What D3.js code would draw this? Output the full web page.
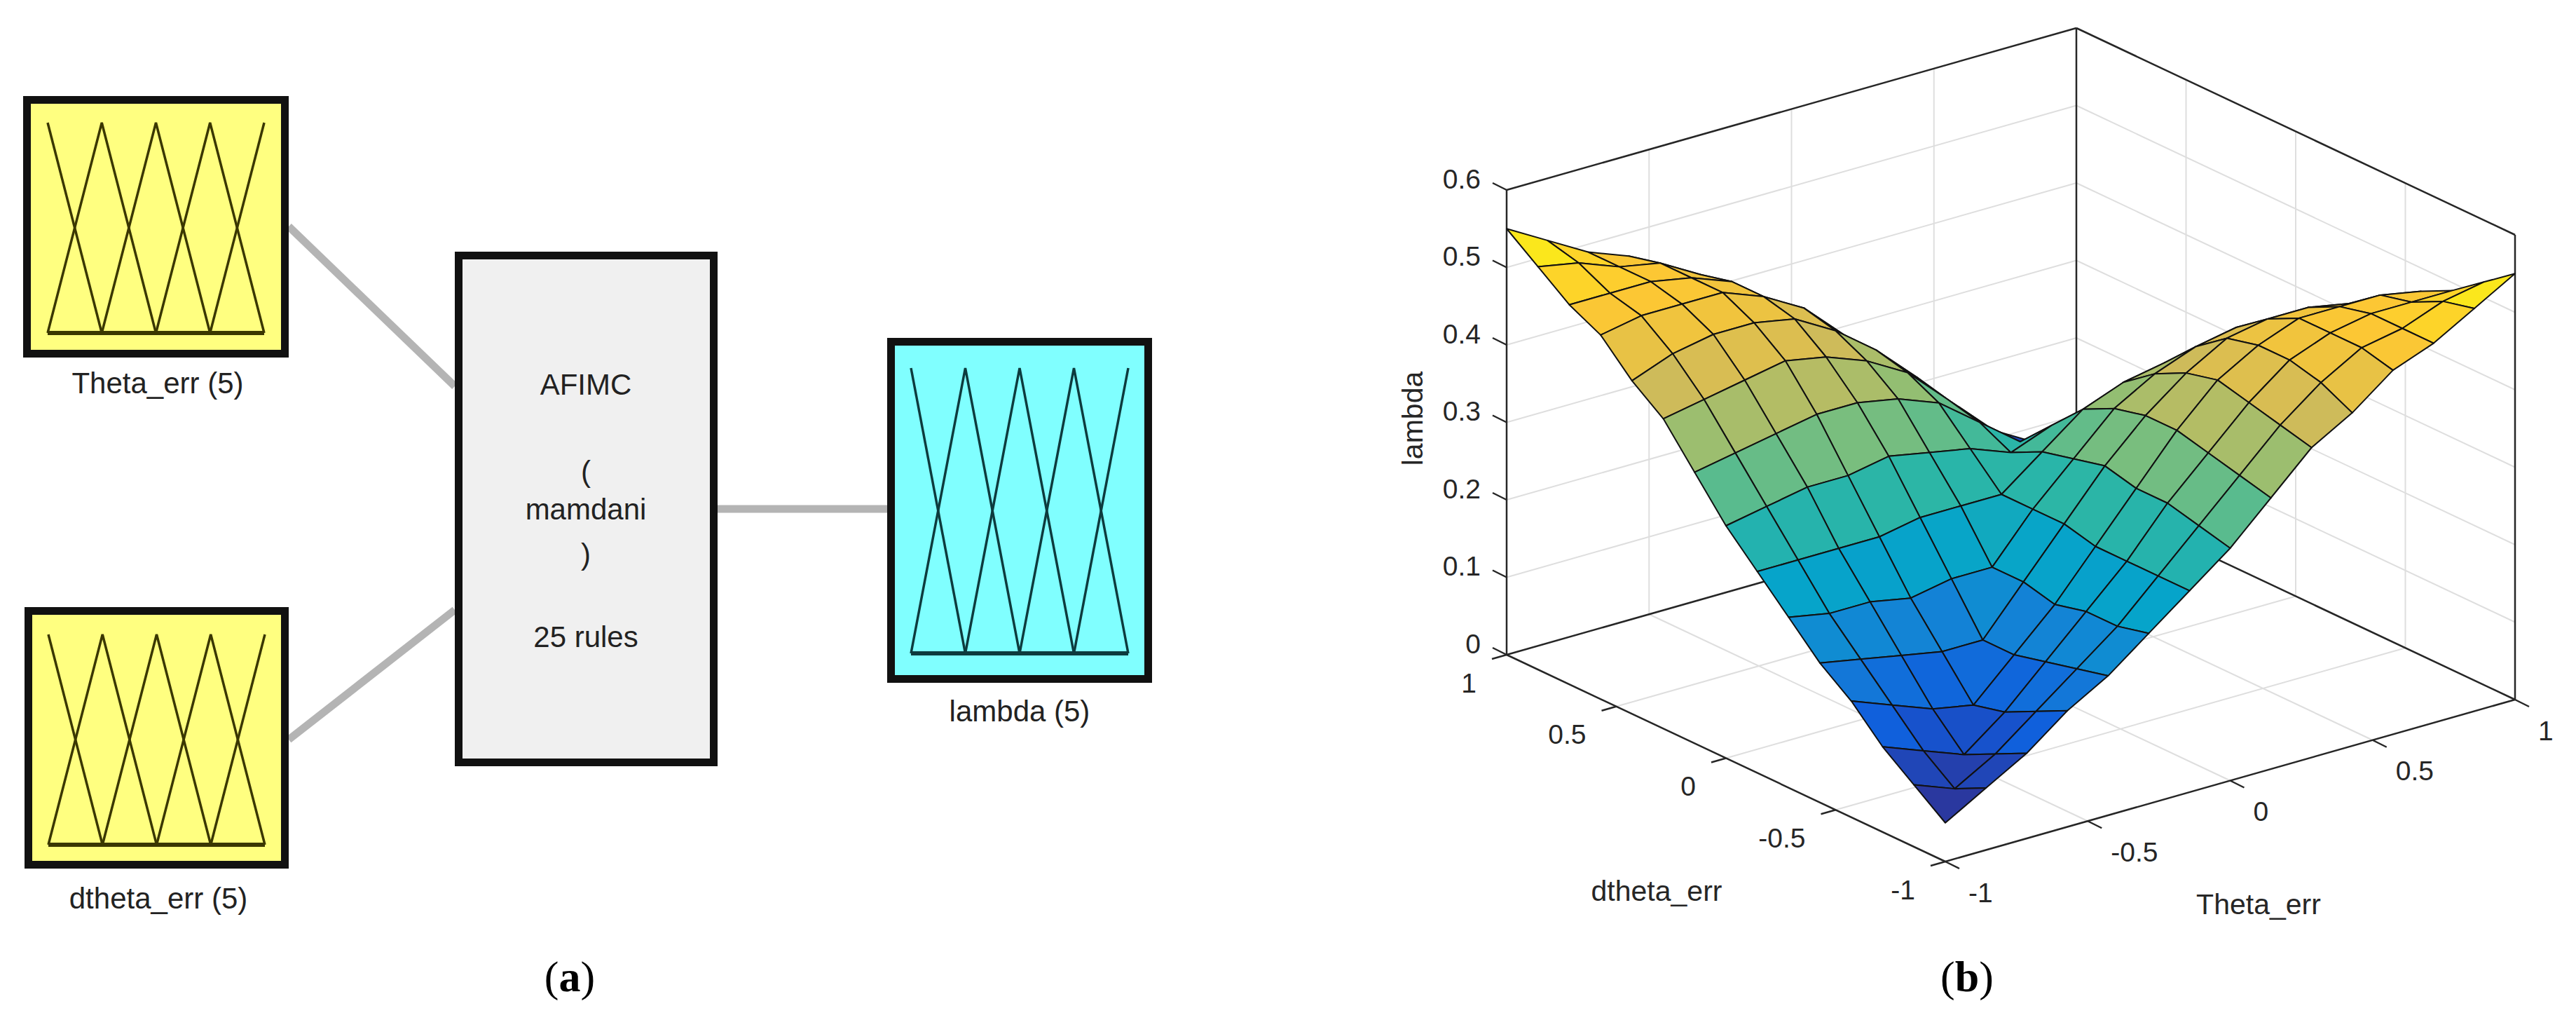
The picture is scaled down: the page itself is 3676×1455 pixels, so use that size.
<!DOCTYPE html>
<html><head><meta charset="utf-8">
<script src="https://cdn.jsdelivr.net/npm/d3@7"></script>
<style>body{margin:0;background:#fff}svg{display:block}</style>
</head><body>
<svg id="c" width="3676" height="1455"></svg>
<script>
// ---------- data ----------
const inputs = ["Theta_err (5)", "dtheta_err (5)"];
const outputName = "lambda (5)";
const systemLines = ["AFIMC", "(", "mamdani", ")", "25 rules"];
const mfPeaks = [-1, -0.5, 0, 0.5, 1];           // 5 triangular MFs
const thetaTicks = [-1, -0.5, 0, 0.5, 1];
const dthetaTicks = [-1, -0.5, 0, 0.5, 1];
const zTicks = [0, 0.1, 0.2, 0.3, 0.4, 0.5, 0.6];
const gridVals = [-1,-6/7,-5/7,-4/7,-3/7,-2/7,-1/7,0,1/7,2/7,3/7,4/7,5/7,6/7,1];
// lambda[i][j]: i = Theta_err index, j = dtheta_err index
const lambda = [
[0.05,0.08,0.11,0.15,0.18,0.22,0.26,0.30,0.35,0.40,0.43,0.47,0.49,0.52,0.55],
[0.08,0.06,0.09,0.13,0.17,0.21,0.26,0.31,0.36,0.41,0.45,0.48,0.49,0.51,0.52],
[0.11,0.09,0.07,0.11,0.16,0.21,0.26,0.32,0.37,0.42,0.46,0.48,0.49,0.49,0.49],
[0.15,0.13,0.11,0.10,0.15,0.20,0.26,0.32,0.38,0.43,0.46,0.48,0.48,0.48,0.47],
[0.18,0.17,0.16,0.15,0.15,0.21,0.27,0.33,0.38,0.42,0.45,0.46,0.46,0.45,0.43],
[0.22,0.21,0.21,0.20,0.21,0.21,0.27,0.32,0.37,0.40,0.42,0.43,0.42,0.41,0.40],
[0.26,0.26,0.26,0.26,0.27,0.27,0.27,0.31,0.35,0.37,0.38,0.38,0.37,0.36,0.35],
[0.30,0.31,0.32,0.32,0.33,0.32,0.31,0.29,0.31,0.32,0.33,0.32,0.32,0.31,0.30],
[0.35,0.36,0.37,0.38,0.38,0.37,0.35,0.31,0.27,0.27,0.27,0.26,0.26,0.26,0.26],
[0.40,0.41,0.42,0.43,0.42,0.40,0.37,0.32,0.27,0.21,0.21,0.20,0.21,0.21,0.22],
[0.43,0.45,0.46,0.46,0.45,0.42,0.38,0.33,0.27,0.21,0.15,0.15,0.16,0.17,0.18],
[0.47,0.48,0.48,0.48,0.46,0.43,0.38,0.32,0.26,0.20,0.15,0.10,0.11,0.13,0.15],
[0.49,0.49,0.49,0.48,0.46,0.42,0.37,0.32,0.26,0.21,0.16,0.11,0.07,0.09,0.11],
[0.52,0.51,0.49,0.48,0.45,0.41,0.36,0.31,0.26,0.21,0.17,0.13,0.09,0.06,0.08],
[0.55,0.52,0.49,0.47,0.43,0.40,0.35,0.30,0.26,0.22,0.18,0.15,0.11,0.08,0.05]
];
const parula = ["#352a87","#0f5cdd","#1481d6","#06a4ca","#2eb7a4","#87bf77","#d1bb59","#fec832","#f9fb0e"];

const svg = d3.select("#c");
const SANS = "Liberation Sans, Arial, sans-serif";

// ---------- panel (a) ----------
function mfBox(x0,y0,w,h,fill,lineCol,inner){
  const g = svg.append("g");
  g.append("rect").attr("x",x0+5.5).attr("y",y0+5.5).attr("width",w-11).attr("height",h-11)
   .attr("fill",fill).attr("stroke","#111").attr("stroke-width",11);
  const xs = d3.scaleLinear().domain([-1,1]).range([inner.x0,inner.x1]);
  const ys = d3.scaleLinear().domain([0,1]).range([inner.base,inner.top]);
  const step = mfPeaks[1]-mfPeaks[0];
  mfPeaks.forEach(p=>{
    const pts=[];
    if(p-step>=-1) pts.push([xs(p-step),ys(0)]);
    pts.push([xs(p),ys(1)]);
    if(p+step<=1) pts.push([xs(p+step),ys(0)]);
    g.append("path").attr("d",d3.line()(pts)).attr("fill","none").attr("stroke",lineCol).attr("stroke-width",3.5);
  });
  g.append("line").attr("x1",xs(-1)).attr("x2",xs(1)).attr("y1",ys(0)).attr("y2",ys(0))
   .attr("stroke",lineCol).attr("stroke-width",6);
}
const conn = [[412,323,649,551],[412,1055,649,870],[1024,726,1266,726]];
conn.forEach(c=>svg.append("line").attr("x1",c[0]).attr("y1",c[1]).attr("x2",c[2]).attr("y2",c[3])
  .attr("stroke","#b4b4b4").attr("stroke-width",11));
mfBox(33,137,379,373,"#ffff80","#3a3700",{x0:68,x1:377,top:175,base:475});
mfBox(35,866,377,373,"#ffff80","#3a3700",{x0:69,x1:378,top:905,base:1205});
mfBox(1266,482,378,492,"#80ffff","#0d3b3e",{x0:1300,x1:1610,top:525,base:932});
svg.append("rect").attr("x",654.5).attr("y",364.5).attr("width",364).attr("height",723)
  .attr("fill","#f0f0f0").attr("stroke","#111").attr("stroke-width",11);
const sysY=[548,672,726,790,908];
systemLines.forEach((t,i)=>svg.append("text").attr("x",836).attr("y",sysY[i]).attr("dy","0.35em")
  .attr("text-anchor","middle").attr("font-family",SANS).attr("font-size",42).attr("fill","#222").text(t));
[[225,546,inputs[0]],[226,1281,inputs[1]],[1455,1014,outputName]].forEach(l=>
  svg.append("text").attr("x",l[0]).attr("y",l[1]).attr("dy","0.35em").attr("text-anchor","middle")
   .attr("font-family",SANS).attr("font-size",42).attr("fill","#222").text(l[2]));

// ---------- panel (b) ----------
const F=[2776,1229], R=[813,-231], L=[-626,-295];
const uS=d3.scaleLinear().domain([-1,1]).range([0,1]);
const zS=d3.scaleLinear().domain([0,0.6]).range([0,663]);
function P(t,d,z){const u=uS(t),v=uS(d);return [F[0]+R[0]*u+L[0]*v, F[1]+R[1]*u+L[1]*v-zS(z)];}
const zmin=d3.min(lambda.flat()), zmax=d3.max(lambda.flat());
const col=d3.scaleLinear().domain(d3.range(9).map(k=>zmin+(zmax-zmin)*k/8)).range(parula).interpolate(d3.interpolateRgb);
const line=(a,b,c,w)=>svg.append("line").attr("x1",a[0]).attr("y1",a[1]).attr("x2",b[0]).attr("y2",b[1]).attr("stroke",c).attr("stroke-width",w);
const GRID="#dedede", AX="#262626";
[-0.5,0,0.5].forEach(v=>{
  line(P(v,1,0),P(v,1,0.6),GRID,2);
  line(P(1,v,0),P(1,v,0.6),GRID,2);
  line(P(v,-1,0),P(v,1,0),GRID,2);
  line(P(-1,v,0),P(1,v,0),GRID,2);
});
zTicks.slice(1,-1).forEach(z=>{line(P(-1,1,z),P(1,1,z),GRID,2);line(P(1,1,z),P(1,-1,z),GRID,2);});
line(P(-1,1,0),P(1,1,0),AX,2.5); line(P(1,1,0),P(1,-1,0),AX,2.5);
line(P(1,1,0),P(1,1,0.6),AX,2.5);
line(P(-1,1,0.6),P(1,1,0.6),AX,2.5); line(P(1,1,0.6),P(1,-1,0.6),AX,2.5);
line(P(-1,1,0),P(-1,1,0.6),AX,2.5); line(P(1,-1,0),P(1,-1,0.6),AX,2.5);
line(P(-1,-1,0),P(-1,1,0),AX,2.5); line(P(-1,-1,0),P(1,-1,0),AX,2.5);
const quads=[];
for(let i=0;i<14;i++)for(let j=0;j<14;j++){
  const c=[[i,j],[i+1,j],[i+1,j+1],[i,j+1]];
  quads.push({depth:i+j, pts:c.map(([a,b])=>P(gridVals[a],gridVals[b],lambda[a][b])),
    z:d3.mean(c,([a,b])=>lambda[a][b])});
}
quads.sort((a,b)=>b.depth-a.depth);
svg.append("g").selectAll("path").data(quads).join("path")
  .attr("d",q=>"M"+q.pts.join("L")+"Z").attr("fill",q=>col(q.z))
  .attr("stroke","#111").attr("stroke-width",2).attr("stroke-linejoin","round");
const txt=(x,y,s,anchor,size)=>svg.append("text").attr("x",x).attr("y",y).attr("dy","0.35em")
  .attr("text-anchor",anchor).attr("font-family",SANS).attr("font-size",size).attr("fill","#262626").text(s);
zTicks.forEach(z=>{const p=P(-1,1,z);line(p,[p[0]-20,p[1]-10],AX,2.5);txt(p[0]-37,p[1]-16,String(z),"end",39);});
thetaTicks.forEach(t=>{const p=P(t,-1,0);line(p,[p[0]+20,p[1]+10],AX,2.5);txt(p[0]+33,p[1]+44,String(t),"start",39);});
dthetaTicks.forEach(d=>{const p=P(-1,d,0);line(p,[p[0]-21,p[1]+6],AX,2.5);txt(p[0]-43,p[1]+40,String(d),"end",39);});
txt(2364,1271,"dtheta_err","middle",41);
txt(3223,1290,"Theta_err","middle",41);
svg.append("text").attr("transform","translate(2016,597) rotate(-90)").attr("dy","0.35em").attr("text-anchor","middle")
  .attr("font-family",SANS).attr("font-size",41).attr("fill","#262626").text("lambda");
[[813,"a"],[2807,"b"]].forEach(([x,l])=>{
  const t=svg.append("text").attr("x",x).attr("y",1392).attr("dy","0.35em").attr("text-anchor","middle")
    .attr("font-family","Liberation Serif, Times New Roman, serif").attr("font-size",62).attr("fill","#000");
  t.append("tspan").text("(");t.append("tspan").attr("font-weight","bold").text(l);t.append("tspan").text(")");
});
</script></body></html>
